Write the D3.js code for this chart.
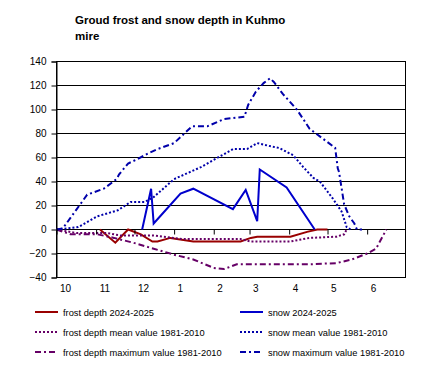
<!DOCTYPE html>
<html>
<head>
<meta charset="utf-8">
<script src="https://cdn.jsdelivr.net/npm/d3@7"></script>
<style>
  body { margin: 0; background: #fff; }
  svg { display: block; font-family: "Liberation Sans", Arial, sans-serif; }
</style>
</head>
<body>
<svg id="chart" width="430" height="376"></svg>
<script>
// frost depth 2024-2025
const frostDates = ["2024-11-04","2024-11-16","2024-11-26","2024-12-06","2024-12-15","2024-12-19","2024-12-29",
  "2025-01-16","2025-02-22","2025-03-02","2025-03-07","2025-04-02","2025-04-15","2025-04-23","2025-05-01"];
const frostValues = [0,-11,0,-4,-10,-10,-7,-10,-10,-7,-6,-6,-2,0,0];

// snow 2024-2025
const snowDates = ["2024-12-07","2024-12-14","2024-12-16","2025-01-06","2025-01-16","2025-02-16","2025-02-26",
  "2025-03-07","2025-03-09","2025-03-30","2025-04-21"];
const snowValues = [0,34,5,30,34,17,33,7,50,35,0];

// frost depth mean value 1981-2010
const frostMeanDates = ["2024-10-01","2024-10-17","2024-11-10","2024-11-20","2024-12-16","2025-01-08","2025-02-22",
  "2025-03-02","2025-04-02","2025-04-17","2025-05-08","2025-05-14","2025-05-16"];
const frostMeanValues = [0,-3,-3,-5,-5,-8,-8,-10,-10,-7,-6,-4,0];

// snow mean value 1981-2010
const snowMeanDates = ["2024-10-01","2024-10-18","2024-11-02","2024-11-18","2024-11-28","2024-12-09","2024-12-16",
  "2025-01-01","2025-01-22","2025-02-06","2025-02-16","2025-02-27","2025-03-07","2025-03-19","2025-03-24",
  "2025-04-04","2025-04-12","2025-04-20","2025-04-25","2025-05-05","2025-05-12","2025-05-16","2025-05-19"];
const snowMeanValues = [0,2,11,16,23,23,27,42,52,61,67,67,72,69,68,62,52,43,40,26,15,2,0];

// frost depth maximum value 1981-2010
const frostMaxDates = ["2024-10-01","2024-10-12","2024-11-02","2024-11-15","2024-11-30","2024-12-16","2025-01-01",
  "2025-01-16","2025-02-01","2025-02-09","2025-02-19","2025-04-17","2025-05-08","2025-05-20","2025-06-01",
  "2025-06-08","2025-06-16"];
const frostMaxValues = [0,-4,-4,-7,-11,-16,-21,-25,-32,-33,-29,-29,-28,-25,-20,-16,0];

// snow maximum value 1981-2010
const snowMaxDates = ["2024-10-01","2024-10-06","2024-10-25","2024-11-07","2024-11-17","2024-11-19","2024-11-26",
  "2024-12-02","2024-12-11","2024-12-19","2025-01-01","2025-01-08","2025-01-15","2025-01-27","2025-02-09",
  "2025-02-25","2025-02-28","2025-03-06","2025-03-12","2025-03-17","2025-03-20","2025-03-27","2025-04-07",
  "2025-04-17","2025-04-27","2025-05-07","2025-05-09","2025-05-10","2025-05-14","2025-05-18","2025-05-22",
  "2025-05-24","2025-05-28"];
const snowMaxValues = [0,1,29,34,42,46,55,58,63,67,72,79,86,86,92,94,104,115,122,126,123,113,100,84,76,68,51,48,21,11,5,0,0];

const monthTicks = ["2024-10-01","2024-11-01","2024-12-01","2025-01-01","2025-02-01","2025-03-01",
  "2025-04-01","2025-05-01","2025-06-01"];
const yTicks = [-40,-20,0,20,40,60,80,100,120,140];

const parse = d3.timeParse("%Y-%m-%d");

const series = [
  { name: "frost depth 2024-2025", dates: frostDates, values: frostValues, color: "#990000", dash: null },
  { name: "frost depth mean value 1981-2010", dates: frostMeanDates, values: frostMeanValues, color: "#660066", dash: "2,2" },
  { name: "frost depth maximum value 1981-2010", dates: frostMaxDates, values: frostMaxValues, color: "#660066", dash: "6,3,2,3" },
  { name: "snow 2024-2025", dates: snowDates, values: snowValues, color: "#0000cc", dash: null },
  { name: "snow mean value 1981-2010", dates: snowMeanDates, values: snowMeanValues, color: "#0000aa", dash: "2,2" },
  { name: "snow maximum value 1981-2010", dates: snowMaxDates, values: snowMaxValues, color: "#0000aa", dash: "6,3,2,3" }
];

const svg = d3.select("#chart");
const plotLeft = 56.5, plotRight = 405.5, plotTop = 61.5, plotBottom = 277.5;

const x = d3.scaleTime()
  .domain([parse("2024-10-01"), parse("2025-07-01")])
  .range([plotLeft, plotRight]);
const y = d3.scaleLinear()
  .domain([-40, 140])
  .range([plotBottom, plotTop]);

// title
const title = svg.append("text")
  .attr("x", 75).attr("y", 24)
  .style("font-size", "11.5px").style("font-weight", "bold");
title.append("tspan").attr("x", 75).text("Groud frost and snow depth in Kuhmo");
title.append("tspan").attr("x", 75).attr("dy", 16).text("mire");

// gridlines
svg.append("g")
  .selectAll("line")
  .data(yTicks)
  .join("line")
  .attr("x1", plotLeft).attr("x2", plotRight)
  .attr("y1", d => y(d)).attr("y2", d => y(d))
  .attr("stroke", "#000").attr("stroke-width", 1);

svg.append("rect")
  .attr("x", plotLeft).attr("y", plotTop)
  .attr("width", plotRight - plotLeft).attr("height", plotBottom - plotTop)
  .attr("fill", "none").attr("stroke", "#000");

// lines
const line = d3.line()
  .x(d => x(d.date))
  .y(d => y(d.v));

series.forEach(s => {
  const pts = s.dates.map((d, i) => ({ date: parse(d), v: s.values[i] }));
  svg.append("path")
    .datum(pts)
    .attr("d", line)
    .attr("fill", "none")
    .attr("stroke", s.color)
    .attr("stroke-width", 2)
    .attr("stroke-dasharray", s.dash);
});

// y axis
const yAxis = svg.append("g")
  .attr("transform", `translate(${plotLeft},0)`)
  .call(d3.axisLeft(y).tickValues(yTicks).tickSize(5).tickPadding(5));
yAxis.select(".domain").attr("stroke", "#000");
yAxis.selectAll("text").style("font-size", "10px").attr("fill", "#000")
  .style("font-family", "'Liberation Sans', Arial, sans-serif");

// x axis on the zero line, ticks only
const xAxis = svg.append("g")
  .attr("transform", `translate(0,${y(0)})`)
  .call(d3.axisBottom(x).tickValues(monthTicks.map(parse)).tickSize(5).tickFormat(""));
xAxis.select(".domain").remove();

// month labels below the plot
const xLabels = svg.append("g")
  .attr("transform", `translate(0,${plotBottom})`)
  .call(d3.axisBottom(x).tickValues(monthTicks.map(parse)).tickSize(0).tickPadding(7)
    .tickFormat(d3.timeFormat("%-m")));
xLabels.select(".domain").remove();
xLabels.selectAll("text")
  .attr("text-anchor", "start").attr("dx", 3)
  .style("font-size", "10px").attr("fill", "#000")
  .style("font-family", "'Liberation Sans', Arial, sans-serif");

// legend
const legendOrder = [0, 3, 1, 4, 2, 5];
legendOrder.forEach((idx, k) => {
  const s = series[idx];
  const col = k % 2, row = Math.floor(k / 2);
  const lx = col === 0 ? 35 : 240;
  const ly = 312 + row * 20;
  svg.append("line")
    .attr("x1", lx).attr("x2", lx + 23)
    .attr("y1", ly).attr("y2", ly)
    .attr("stroke", s.color).attr("stroke-width", 2)
    .attr("stroke-dasharray", s.dash);
  svg.append("text")
    .attr("x", lx + 28).attr("y", ly + 3.5)
    .style("font-size", "9.3px")
    .text(s.name);
});
</script>
</body>
</html>
